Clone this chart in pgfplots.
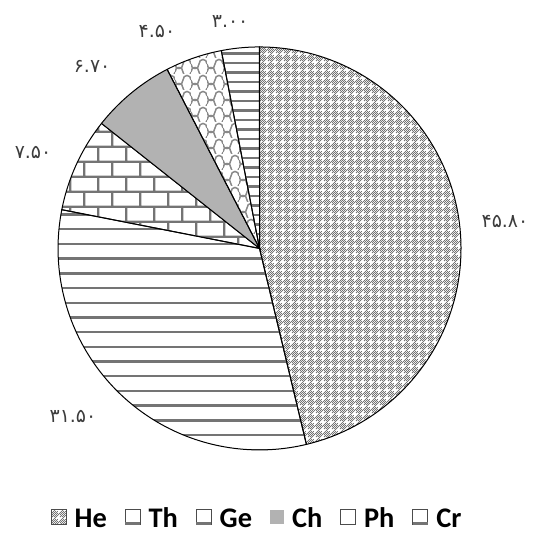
\documentclass[border=0pt]{standalone}
\usepackage{pgfplots}
\pgfplotsset{compat=1.18}
\usepackage{pgfplotstable}
\usepackage{fontspec}
\setmainfont{Carlito}
\newfontfamily\arabicfont[Script=Arabic]{DejaVu Sans}
\usetikzlibrary{patterns}

% ---------- patterns ----------
\pgfdeclarepatternformonly{hetex}{\pgfqpoint{0bp}{0bp}}{\pgfqpoint{8bp}{8bp}}{\pgfqpoint{8bp}{8bp}}{%
  \foreach \i in {0,...,7}{\foreach \j in {0,...,7}{%
    \pgfmathtruncatemacro\inplus{((\i==3||\i==4)&&(\j>=1&&\j<=6))||((\j==3||\j==4)&&(\i>=1&&\i<=6))}%
    \pgfmathtruncatemacro\parity{mod(\i+\j,2)}%
    \ifnum\inplus=0 \ifnum\parity=0
      \pgfpathrectangle{\pgfqpoint{\i bp}{\j bp}}{\pgfqpoint{1bp}{1bp}}\pgfusepath{fill}%
    \fi\fi
  }}}
\pgfdeclarepatternformonly{thlines}{\pgfqpoint{0bp}{-1.5bp}}{\pgfqpoint{10bp}{1.5bp}}{\pgfqpoint{10bp}{14.7bp}}{%
  \pgfsetlinewidth{2.4bp}\pgfpathmoveto{\pgfqpoint{0bp}{0bp}}\pgfpathlineto{\pgfqpoint{10bp}{0bp}}\pgfusepath{stroke}}
\pgfdeclarepatternformonly{crlines}{\pgfqpoint{0bp}{-1.5bp}}{\pgfqpoint{10bp}{1.5bp}}{\pgfqpoint{10bp}{9.5bp}}{%
  \pgfsetlinewidth{2.2bp}\pgfpathmoveto{\pgfqpoint{0bp}{0bp}}\pgfpathlineto{\pgfqpoint{10bp}{0bp}}\pgfusepath{stroke}}
\pgfdeclarepatternformonly{gebricks}{\pgfqpoint{0bp}{0bp}}{\pgfqpoint{28bp}{30bp}}{\pgfqpoint{28bp}{30bp}}{%
  \pgfsetlinewidth{2.3bp}%
  \pgfpathmoveto{\pgfqpoint{0bp}{1.2bp}}\pgfpathlineto{\pgfqpoint{28bp}{1.2bp}}%
  \pgfpathmoveto{\pgfqpoint{0bp}{16.2bp}}\pgfpathlineto{\pgfqpoint{28bp}{16.2bp}}%
  \pgfpathmoveto{\pgfqpoint{1.2bp}{0bp}}\pgfpathlineto{\pgfqpoint{1.2bp}{16.2bp}}%
  \pgfpathmoveto{\pgfqpoint{15.2bp}{16.2bp}}\pgfpathlineto{\pgfqpoint{15.2bp}{30bp}}%
  \pgfusepath{stroke}}
\pgfdeclarepatternformonly{phwave}{\pgfqpoint{0bp}{0bp}}{\pgfqpoint{16bp}{16bp}}{\pgfqpoint{16bp}{16bp}}{%
  \pgfsetlinewidth{1.5bp}%
  \pgfpathmoveto{\pgfqpoint{0bp}{2bp}}%
  \pgfpathcurveto{\pgfqpoint{0bp}{8bp}}{\pgfqpoint{8bp}{8bp}}{\pgfqpoint{8bp}{2bp}}%
  \pgfpathmoveto{\pgfqpoint{8bp}{2bp}}%
  \pgfpathcurveto{\pgfqpoint{8bp}{-4bp}}{\pgfqpoint{16bp}{-4bp}}{\pgfqpoint{16bp}{2bp}}%
  \pgfpathmoveto{\pgfqpoint{0bp}{10bp}}%
  \pgfpathcurveto{\pgfqpoint{0bp}{4bp}}{\pgfqpoint{8bp}{4bp}}{\pgfqpoint{8bp}{10bp}}%
  \pgfpathmoveto{\pgfqpoint{8bp}{10bp}}%
  \pgfpathcurveto{\pgfqpoint{8bp}{16bp}}{\pgfqpoint{16bp}{16bp}}{\pgfqpoint{16bp}{10bp}}%
  \pgfusepath{stroke}}

% ---------- data ----------
\pgfplotstableread{
name value
He 45.80
Th 31.50
Ge 7.50
Ch 6.70
Ph 4.50
Cr 3.00
}\piedata
\pgfplotstablegetelem{0}{value}\of\piedata\let\vHe\pgfplotsretval
\pgfplotstablegetelem{1}{value}\of\piedata\let\vTh\pgfplotsretval
\pgfplotstablegetelem{2}{value}\of\piedata\let\vGe\pgfplotsretval
\pgfplotstablegetelem{3}{value}\of\piedata\let\vCh\pgfplotsretval
\pgfplotstablegetelem{4}{value}\of\piedata\let\vPh\pgfplotsretval
\pgfplotstablegetelem{5}{value}\of\piedata\let\vCr\pgfplotsretval
\pgfmathsetmacro\tot{\vHe+\vTh+\vGe+\vCh+\vPh+\vCr}
\pgfmathsetmacro\aHe{90}
\pgfmathsetmacro\aTh{\aHe-360*(\vHe/\tot)}
\pgfmathsetmacro\aGe{\aTh-360*(\vTh/\tot)}
\pgfmathsetmacro\aCh{\aGe-360*(\vGe/\tot)}
\pgfmathsetmacro\aPh{\aCh-360*(\vCh/\tot)}
\pgfmathsetmacro\aCr{\aPh-360*(\vPh/\tot)}
\pgfmathsetmacro\aEnd{\aCr-360*(\vCr/\tot)}

\definecolor{lblgray}{HTML}{3C3C3C}
\definecolor{patgray}{HTML}{747474}
\definecolor{chgray}{HTML}{B2B2B2}

\tikzset{
  wedge/.style={draw=black, line width=1bp, samples=90, variable=\t},
}

\begin{document}
\begin{tikzpicture}
\begin{axis}[
  name=ax,
  x=201.5bp, y=201.5bp,
  xmin=-1.288, xmax=1.387, ymin=-1.437, ymax=1.233,
  hide axis, clip=false,
  legend columns=-1,
  legend style={at={(0.477,0.036)}, anchor=center, draw=none, fill=none,
    font=\bfseries\fontsize{28.5}{31}\selectfont, inner sep=0pt,
    /tikz/every even column/.append style={column sep=16bp},
    /tikz/every odd column/.append style={column sep=6bp}},
]
\addplot[wedge, pattern=hetex, pattern color=patgray, domain=\aTh:\aHe,
  legend image code/.code={\draw[gray!60!black, line width=0.8bp, pattern=hetex, pattern color=patgray] (0bp,-6bp) rectangle (15bp,9bp);}]
  ({cos(\t)},{sin(\t)}) -- (axis cs:0,0) -- cycle;
\addlegendentry{He}
\addplot[wedge, pattern=thlines, pattern color=patgray, domain=\aGe:\aTh,
  legend image code/.code={\draw[gray!60!black, line width=0.8bp, fill=white] (0bp,-6bp) rectangle (15bp,9bp);
    \fill[patgray] (0.4bp,-5.6bp) rectangle (14.6bp,-3.8bp);}]
  ({cos(\t)},{sin(\t)}) -- (axis cs:0,0) -- cycle;
\addlegendentry{Th}
\addplot[wedge, pattern=gebricks, pattern color=patgray, domain=\aCh:\aGe,
  legend image code/.code={\draw[gray!60!black, line width=0.8bp, fill=white] (0bp,-6bp) rectangle (15bp,9bp);
    \fill[patgray] (0.4bp,-5.6bp) rectangle (14.6bp,-3.4bp);}]
  ({cos(\t)},{sin(\t)}) -- (axis cs:0,0) -- cycle;
\addlegendentry{Ge}
\addplot[wedge, fill=chgray, domain=\aPh:\aCh,
  legend image code/.code={\fill[chgray] (0bp,-5bp) rectangle (13bp,8bp);}]
  ({cos(\t)},{sin(\t)}) -- (axis cs:0,0) -- cycle;
\addlegendentry{Ch}
\addplot[wedge, pattern=phwave, pattern color=patgray!85, domain=\aCr:\aPh,
  legend image code/.code={\draw[gray!60!black, line width=0.8bp, fill=white] (0bp,-6bp) rectangle (15bp,9bp);}]
  ({cos(\t)},{sin(\t)}) -- (axis cs:0,0) -- cycle;
\addlegendentry{Ph}
\addplot[wedge, pattern=crlines, pattern color=patgray, domain=\aEnd:\aCr,
  legend image code/.code={\draw[gray!60!black, line width=0.8bp, fill=white] (0bp,-6bp) rectangle (15bp,9bp);
    \fill[patgray] (0.4bp,-5.6bp) rectangle (14.6bp,-3.8bp);}]
  ({cos(\t)},{sin(\t)}) -- (axis cs:0,0) -- cycle;
\addlegendentry{Cr}

\begin{scope}[every node/.style={text=lblgray, font=\arabicfont\fontsize{19}{21}\selectfont}]
\node at (axis cs:1.218,0.136) {۴۵.۸۰};
\node at (axis cs:-0.926,-0.836) {۳۱.۵۰};
\node at (axis cs:-1.124,0.474) {۷.۵۰};
\node at (axis cs:-0.831,0.901) {۶.۷۰};
\node at (axis cs:-0.509,1.079) {۴.۵۰};
\node at (axis cs:-0.146,1.124) {۳.۰۰};
\end{scope}
\end{axis}
\pgfresetboundingbox
\path[use as bounding box] (ax.south west) rectangle (ax.north east);
\end{tikzpicture}
\end{document}
